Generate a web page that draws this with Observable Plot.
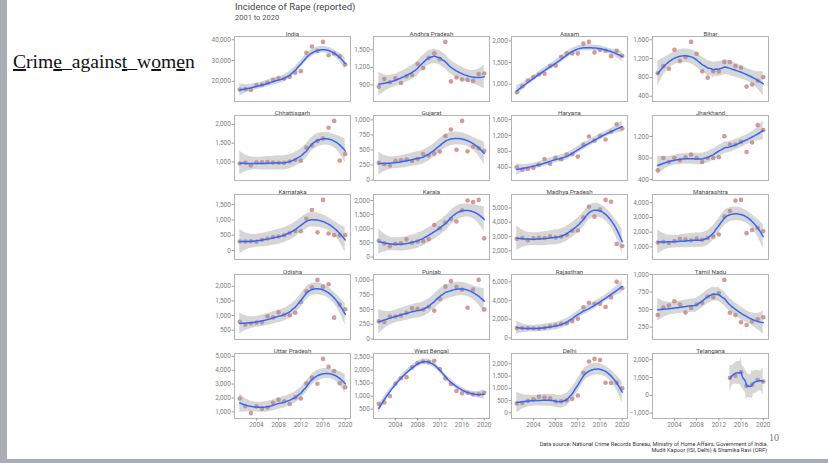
<!DOCTYPE html>
<html>
<head>
<meta charset="utf-8">
<script src="https://cdn.jsdelivr.net/npm/d3@7"></script>
<script src="https://cdn.jsdelivr.net/npm/@observablehq/plot@0.6"></script>
<style>
  html, body { margin: 0; padding: 0; background: #fff; }
  #slide { position: relative; width: 828px; height: 463px; overflow: hidden; background: #fff; }
  .panel { position: absolute; }
  .panel svg { overflow: visible; }
  #overlay { position: absolute; left: 0; top: 0; }
</style>
</head>
<body>
<div id="slide">
  <div style="position:absolute;left:0;top:0;width:7px;height:463px;background:#a9aeb6"></div>
  <div style="position:absolute;left:0;top:459px;width:828px;height:4px;background:#a9aeb6"></div>
  <svg id="overlay" width="828" height="463">
    <text x="13" y="68" font-family="Liberation Serif, Times New Roman, serif" font-size="19.6" fill="#111"><tspan text-decoration="underline">C</tspan>rim<tspan text-decoration="underline">e</tspan>_agains<tspan text-decoration="underline">t</tspan>_w<tspan text-decoration="underline">o</tspan>m<tspan text-decoration="underline">e</tspan>n</text>
    <text x="235" y="10" font-family="Roboto, Liberation Sans, sans-serif" font-size="9.5" fill="#444">Incidence of Rape (reported)</text>
    <text x="235" y="19.5" font-family="Roboto, Liberation Sans, sans-serif" font-size="7.5" fill="#555">2001 to 2020</text>
    <text x="768" y="446" text-anchor="end" font-family="Roboto, Liberation Sans, sans-serif" font-size="5.6" fill="#333">Data source: National Crime Records Bureau, Ministry of Home Affairs, Government of India.</text>
    <text x="767" y="451.5" text-anchor="end" font-family="Roboto, Liberation Sans, sans-serif" font-size="5.6" fill="#333">Mudit Kapoor (ISI, Delhi) &amp; Shamika Ravi (ORF)</text>
    <text x="769" y="441" font-family="Liberation Serif, Times New Roman, serif" font-size="10" fill="#777">10</text>
  </svg>
</div>
<script>
// ---------------- DATA ----------------
const years = [2001, 2002, 2003, 2004, 2005, 2006, 2007, 2008, 2009, 2010,
               2011, 2012, 2013, 2014, 2015, 2016, 2017, 2018, 2019, 2020];
const telanganaYears = [2014, 2015, 2016, 2017, 2018, 2019, 2020];
const xTicks = [2004, 2008, 2012, 2016, 2020];

const states = ["India", "Andhra Pradesh", "Assam", "Bihar",
                "Chhattisgarh", "Gujarat", "Haryana", "Jharkhand",
                "Karnataka", "Kerala", "Madhya Pradesh", "Maharashtra",
                "Odisha", "Punjab", "Rajasthan", "Tamil Nadu",
                "Uttar Pradesh", "West Bengal", "Delhi", "Telangana"];

const india        = [16075, 16373, 15847, 18233, 18359, 19348, 20737, 21467, 21397, 22172, 24206, 24923, 33707, 36735, 34651, 38947, 32559, 33356, 32033, 28046];
const andhra       = [871, 1002, 946, 1016, 935, 1049, 1070, 1257, 1188, 1362, 1442, 1341, 1635, 961, 1027, 994, 988, 971, 1086, 1095];
const assam        = [817, 953, 1086, 1164, 1226, 1242, 1422, 1430, 1633, 1711, 1711, 1711, 1937, 1976, 1734, 1789, 1772, 1648, 1773, 1656];
const bihar        = [888, 1040, 985, 1390, 1147, 1232, 1555, 1302, 929, 795, 934, 927, 1128, 1127, 1041, 1008, 605, 651, 730, 806];
const chhattisgarh = [959, 978, 909, 990, 990, 995, 982, 978, 976, 1012, 1053, 1034, 1380, 1436, 1560, 1626, 1908, 2091, 1036, 1210];
const gujarat      = [286, 264, 241, 319, 330, 340, 316, 354, 433, 408, 439, 473, 732, 839, 503, 982, 477, 553, 528, 486];
const haryana      = [398, 340, 355, 386, 461, 608, 488, 631, 603, 720, 733, 668, 972, 1174, 1070, 1187, 1099, 1296, 1480, 1373];
const jharkhand    = [569, 800, 725, 800, 756, 812, 862, 800, 725, 800, 800, 812, 1206, 1050, 1050, 1100, 912, 1087, 1412, 1318];
const karnataka    = [295, 295, 300, 290, 350, 395, 440, 460, 500, 575, 640, 630, 1035, 1325, 595, 1655, 555, 505, 490, 505];
const kerala       = [575, 480, 383, 470, 480, 623, 500, 548, 554, 634, 1132, 1019, 1221, 1347, 1256, 1656, 2003, 1945, 2023, 660];
const madhya       = [2851, 2891, 2738, 2875, 2921, 2900, 3010, 2937, 2998, 3135, 3406, 3425, 4335, 5076, 4391, 4882, 5562, 5433, 2485, 2339];
const maharashtra  = [1302, 1352, 1268, 1388, 1545, 1500, 1451, 1558, 1482, 1599, 1701, 1839, 3063, 3438, 4144, 4189, 1933, 2142, 2299, 2061];
const odisha       = [790, 690, 730, 760, 770, 980, 940, 1110, 1030, 1010, 1100, 1460, 1830, 1970, 2220, 1990, 2070, 930, 1380, 1220];
const punjab       = [299, 288, 380, 380, 400, 442, 519, 510, 500, 546, 479, 680, 888, 981, 886, 838, 530, 837, 1002, 502];
const rajasthan    = [1049, 1051, 1050, 1038, 993, 1085, 1238, 1355, 1519, 1571, 1800, 2049, 3285, 3759, 3644, 3656, 3305, 4335, 5997, 5310];
const tamilnadu    = [423, 528, 557, 618, 571, 457, 523, 573, 596, 686, 677, 737, 923, 455, 421, 319, 280, 331, 362, 389];
const uttar        = [1958, 1415, 911, 1397, 1217, 1314, 1648, 1871, 1759, 1563, 2042, 1963, 3050, 3467, 3025, 4816, 4246, 3946, 3065, 2769];
const westbengal   = [709, 759, 1002, 1475, 1686, 1731, 2106, 2263, 2336, 2311, 2363, 2046, 1685, 1466, 1199, 1110, 1133, 1069, 1069, 1128];
const delhi        = [381, 403, 490, 551, 658, 623, 598, 466, 469, 507, 572, 706, 1636, 2096, 2199, 2155, 1229, 1215, 1231, 997];
const telangana    = [979, 1105, 1300, 530, 600, 870, 770];

const yTickLabels = [
  [20000, 30000, 40000], [900, 1200, 1500], [1000, 1500, 2000], [400, 800, 1200, 1600],
  [1000, 1500, 2000], [0, 250, 500, 750, 1000], [400, 800, 1200, 1600], [400, 800, 1200],
  [0, 500, 1000, 1500], [0, 500, 1000, 1500, 2000], [2000, 3000, 4000, 5000], [1000, 2000, 3000, 4000],
  [500, 1000, 1500, 2000], [0, 250, 500, 750, 1000], [0, 2000, 4000, 6000], [250, 500, 750, 1000],
  [1000, 2000, 3000, 4000, 5000], [500, 1000, 1500, 2000, 2500], [0, 500, 1000, 1500, 2000], [-1000, 0, 1000, 2000]
];

const seriesValues = [india, andhra, assam, bihar, chhattisgarh, gujarat, haryana, jharkhand,
  karnataka, kerala, madhya, maharashtra, odisha, punjab, rajasthan, tamilnadu,
  uttar, westbengal, delhi, telangana];
const seriesYears = states.map(s => s === "Telangana" ? telanganaYears : years);

// ---------------- LOESS (as geom_smooth: span 0.75, degree 2, 95% CI) ----------------
function inv3row0(m) {
  const [a, b, c] = m[0], [d, e, f] = m[1], [g, h, i] = m[2];
  const A = e * i - f * h, B = -(d * i - f * g), C = d * h - e * g;
  const det = a * A + b * B + c * C;
  return [A / det, (c * h - b * i) / det, (b * f - c * e) / det];
}
function localWeights(xs, x0, q) {
  const dist = xs.map(x => Math.abs(x - x0));
  const h = [...dist].sort((a, b) => a - b)[q - 1] * 1.0000001;
  const w = dist.map(d => { const u = d / h; return u < 1 ? Math.pow(1 - u * u * u, 3) : 0; });
  const M = [[0, 0, 0], [0, 0, 0], [0, 0, 0]];
  xs.forEach((x, j) => {
    const dx = x - x0, v = [1, dx, dx * dx];
    for (let a = 0; a < 3; a++) for (let b = 0; b < 3; b++) M[a][b] += w[j] * v[a] * v[b];
  });
  const r = inv3row0(M);
  return xs.map((x, j) => { const dx = x - x0; return w[j] * (r[0] + r[1] * dx + r[2] * dx * dx); });
}
function gammaln(x) {
  const cof = [76.18009172947146, -86.50532032941677, 24.01409824083091,
               -1.231739572450155, 0.1208650973866179e-2, -0.5395239384953e-5];
  let y = x, tmp = x + 5.5;
  tmp -= (x + 0.5) * Math.log(tmp);
  let ser = 1.000000000190015;
  for (const c of cof) ser += c / ++y;
  return -tmp + Math.log(2.5066282746310005 * ser / x);
}
function betacf(a, b, x) {
  const FPMIN = 1e-300;
  const qab = a + b, qap = a + 1, qam = a - 1;
  let c = 1, d = 1 - qab * x / qap;
  if (Math.abs(d) < FPMIN) d = FPMIN;
  d = 1 / d; let h = d;
  for (let m = 1; m <= 300; m++) {
    const m2 = 2 * m;
    let aa = m * (b - m) * x / ((qam + m2) * (a + m2));
    d = 1 + aa * d; if (Math.abs(d) < FPMIN) d = FPMIN;
    c = 1 + aa / c; if (Math.abs(c) < FPMIN) c = FPMIN;
    d = 1 / d; h *= d * c;
    aa = -(a + m) * (qab + m) * x / ((a + m2) * (qap + m2));
    d = 1 + aa * d; if (Math.abs(d) < FPMIN) d = FPMIN;
    c = 1 + aa / c; if (Math.abs(c) < FPMIN) c = FPMIN;
    d = 1 / d; const del = d * c; h *= del;
    if (Math.abs(del - 1) < 1e-14) break;
  }
  return h;
}
function ibeta(a, b, x) {
  if (x <= 0) return 0; if (x >= 1) return 1;
  const bt = Math.exp(gammaln(a + b) - gammaln(a) - gammaln(b) + a * Math.log(x) + b * Math.log(1 - x));
  return x < (a + 1) / (a + b + 2) ? bt * betacf(a, b, x) / a : 1 - bt * betacf(b, a, 1 - x) / b;
}
function tcdf(t, df) {
  const p = 0.5 * ibeta(df / 2, 0.5, df / (df + t * t));
  return t > 0 ? 1 - p : p;
}
function qt975(df) {
  let lo = 0, hi = 5000;
  for (let i = 0; i < 200; i++) { const mid = (lo + hi) / 2; if (tcdf(mid, df) < 0.975) lo = mid; else hi = mid; }
  return (lo + hi) / 2;
}
function loess(xs, ys, span = 0.75, nEval = 80) {
  const n = xs.length, q = Math.floor(n * span);
  const L = xs.map(x0 => localWeights(xs, x0, q));
  const fitted = L.map(l => d3.sum(l, (v, j) => v * ys[j]));
  const rss = d3.sum(ys, (y, i) => (y - fitted[i]) ** 2);
  const IL = L.map((row, i) => row.map((v, j) => (i === j ? 1 : 0) - v));
  let d1 = 0, d2 = 0;
  for (let i = 0; i < n; i++) for (let j = 0; j < n; j++) {
    let m = 0;
    for (let k = 0; k < n; k++) m += IL[k][i] * IL[k][j];
    if (i === j) d1 += m;
    d2 += m * m;
  }
  const s = Math.sqrt(rss / d1);
  const tq = qt975(d1 * d1 / d2);
  const x0 = xs[0], x1 = xs[n - 1];
  const out = [];
  for (let k = 0; k < nEval; k++) {
    const x = x0 + (x1 - x0) * k / (nEval - 1);
    const l = localWeights(xs, x, q);
    const fit = d3.sum(l, (v, j) => v * ys[j]);
    const se = s * Math.sqrt(d3.sum(l, v => v * v));
    out.push({x, fit, lo: fit - tq * se, hi: fit + tq * se});
  }
  return out;
}

// ---------------- LAYOUT ----------------
const frameLefts = [234, 373, 511, 652];
const frameTops = [36, 115, 194, 274, 353];
const frameW = 116, frameH = 65;
const mL = 32, mT = 12, mR = 1;
const font = "Roboto, 'Liberation Sans', sans-serif";

const slide = document.getElementById("slide");
states.forEach((state, idx) => {
  const col = idx % 4, row = Math.floor(idx / 4);
  const bottom = row === 4;
  const mB = bottom ? 12 : 0;
  const xs = seriesYears[idx], ys = seriesValues[idx];
  const pts = xs.map((x, i) => ({year: x, value: ys[i]}));
  const sm = loess(xs, ys);
  const ticks = yTickLabels[idx];
  const lo = Math.min(d3.min(ys), d3.min(sm, d => d.lo));
  const hi = Math.max(d3.max(ys), d3.max(sm, d => d.hi));
  const pad = (hi - lo) * 0.1;
  const tickPad = (d3.max(ticks) - d3.min(ticks)) * 0.1;
  let y0 = lo - pad, y1 = hi + pad;
  if (d3.min(ticks) < y0) y0 = d3.min(ticks) - tickPad;
  if (d3.max(ticks) > y1) y1 = d3.max(ticks) + tickPad;
  const plot = Plot.plot({
    width: mL + frameW + mR,
    height: mT + frameH + mB,
    marginLeft: mL, marginRight: mR, marginTop: mT, marginBottom: mB,
    style: {fontFamily: font, fontSize: "6.4px", color: "#7d7d7d", background: "transparent", overflow: "visible"},
    x: {domain: [2001 - 0.95, 2020 + 0.95], axis: null},
    y: {domain: [y0, y1], axis: null},
    marks: [
      Plot.frame({stroke: "#b4b4b4", strokeWidth: 1}),
      Plot.dot(pts, {x: "year", y: "value", r: 2.3, fill: "#c4736e", fillOpacity: 0.72, stroke: "none"}),
      Plot.areaY(sm, {x: "x", y1: "lo", y2: "hi", fill: "#999999", fillOpacity: 0.4, curve: "linear"}),
      Plot.line(sm, {x: "x", y: "fit", stroke: "#3366FF", strokeWidth: 1.5, curve: "linear"}),
      Plot.axisY({ticks, tickFormat: d3.format(","), tickSize: 2.5, tickPadding: 1.2, label: null, stroke: "#9a9a9a", fill: "#7d7d7d"}),
      bottom ? Plot.axisX({ticks: xTicks, tickFormat: d => String(d), tickSize: 2.5, tickPadding: 1.5, label: null, stroke: "#9a9a9a", fill: "#7d7d7d"}) : null,
      Plot.text([state], {frameAnchor: "top", dy: -5, text: d => d, fontSize: 6.2, fill: "#4a4a4a", fontFamily: font})
    ]
  });
  const div = document.createElement("div");
  div.className = "panel";
  div.style.left = (frameLefts[col] - mL) + "px";
  div.style.top = (frameTops[row] - mT) + "px";
  div.appendChild(plot);
  slide.appendChild(div);
});
</script>
</body>
</html>
